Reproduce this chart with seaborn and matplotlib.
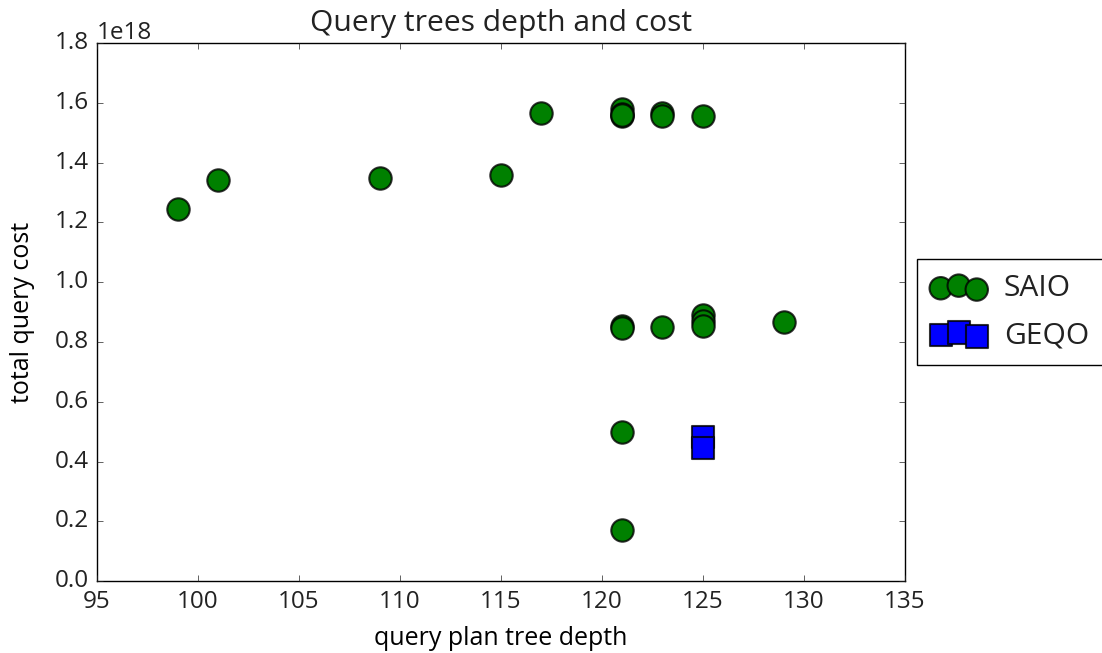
import matplotlib
matplotlib.use("Agg")
import matplotlib.pyplot as plt
import seaborn as sns
import pandas as pd
import numpy as np

# Query plan tree depth and total cost for each optimizer run
saio_depth = [99, 101, 109, 115, 117, 121, 121, 121, 121, 123, 123, 125,
              121, 121, 123, 125, 125, 125, 129, 121, 121]
saio_cost = [1.245e18, 1.342e18, 1.348e18, 1.358e18, 1.566e18, 1.578e18,
             1.562e18, 1.555e18, 1.560e18, 1.566e18, 1.556e18, 1.557e18,
             0.855e18, 0.848e18, 0.850e18, 0.890e18, 0.870e18, 0.855e18,
             0.866e18, 0.498e18, 0.172e18]
geqo_depth = [125, 125]
geqo_cost = [0.482e18, 0.447e18]

plt.style.use("classic")
plt.rcParams["font.family"] = ["Open Sans", "DejaVu Sans"]
plt.rcParams["text.color"] = "#222222"
plt.rcParams["xtick.color"] = "#222222"
plt.rcParams["ytick.color"] = "#222222"

saio = pd.DataFrame({"depth": saio_depth, "cost": saio_cost})
geqo = pd.DataFrame({"depth": geqo_depth, "cost": geqo_cost})

fig = plt.figure(figsize=(11.02, 6.53), dpi=100)
ax = fig.add_axes([0.088, 0.110, 0.733, 0.824])

edge = (0, 0, 0, 0.8)
sns.scatterplot(data=saio, x="depth", y="cost", ax=ax, color="green",
                marker="o", s=260, edgecolor=edge, linewidth=1.5,
                label="SAIO", legend=False)
sns.scatterplot(data=geqo, x="depth", y="cost", ax=ax, color="blue",
                marker="s", s=260, edgecolor=edge, linewidth=1.5,
                label="GEQO", legend=False)

ax.set_xlim(95, 135)
ax.set_ylim(0, 1.8e18)
ax.set_xticks(np.arange(95, 136, 5))
ax.set_yticks(np.arange(0, 1.81e18, 0.2e18))
ax.tick_params(labelsize=17.5, pad=6)
ax.yaxis.get_offset_text().set_fontsize(17.5)

ax.set_title("Query trees depth and cost", fontsize=21.6, pad=9)
ax.set_xlabel("query plan tree depth", fontsize=18, labelpad=9)
ax.set_ylabel("total query cost", fontsize=18, labelpad=14)

handles, labels = ax.get_legend_handles_labels()
ax.legend(handles, labels, loc="center left", bbox_to_anchor=(1.0, 0.5),
          scatterpoints=3, fontsize=21.6, frameon=True, handletextpad=0.6,
          handlelength=1.8, labelspacing=0.6, borderpad=0.5,
          borderaxespad=0.4)

fig.savefig("out.png", dpi=100)
